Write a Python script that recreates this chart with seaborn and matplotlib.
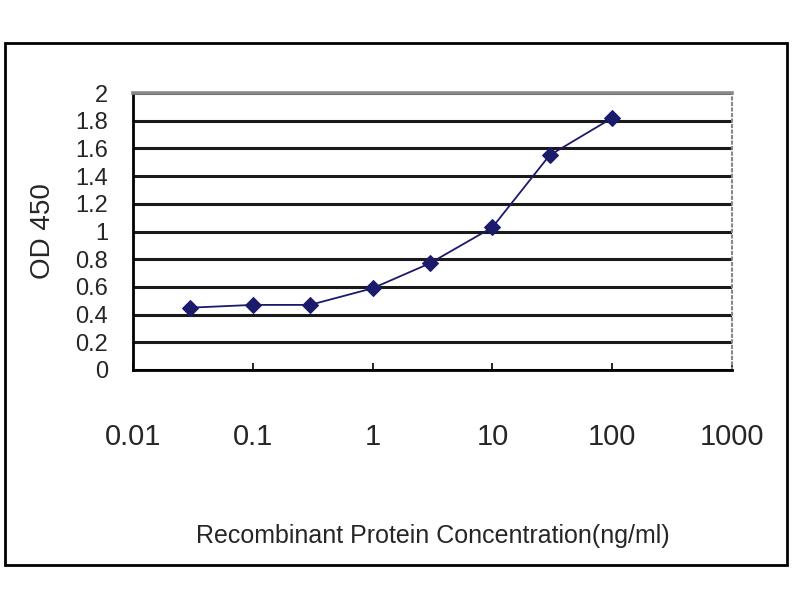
import matplotlib
matplotlib.use("Agg")
import matplotlib.pyplot as plt
from matplotlib.patches import Rectangle
import seaborn as sns
import pandas as pd

# ================= DATOS =================
concentracion = [0.03, 0.1, 0.3, 1, 3, 10, 30, 100]
od450 = [0.45, 0.47, 0.47, 0.59, 0.77, 1.03, 1.55, 1.82]
y_ticks = [0, 0.2, 0.4, 0.6, 0.8, 1, 1.2, 1.4, 1.6, 1.8, 2]
x_ticks = [0.01, 0.1, 1, 10, 100, 1000]
x_labels = ["0.01", "0.1", "1", "10", "100", "1000"]

COLOR = "#1b1a6b"

sns.set_style("white")
plt.rcParams["font.family"] = ["Liberation Sans", "DejaVu Sans"]

df = pd.DataFrame({"conc": concentracion, "od": od450})

fig = plt.figure(figsize=(8, 6), dpi=100)
ax = fig.add_axes([133 / 800, 1 - 370 / 600, 599 / 800, 277 / 600])

# borde exterior del grafico
fig.patches.append(Rectangle((5 / 800, 1 - 565 / 600), 782 / 800, 522 / 600,
                             transform=fig.transFigure, fill=False,
                             edgecolor="black", linewidth=2))

sns.lineplot(data=df, x="conc", y="od", ax=ax, color=COLOR, marker="D",
             markersize=8, markeredgecolor=COLOR, linewidth=1.3)

ax.set_xscale("log")
ax.set_xlim(0.01, 1000)
ax.set_ylim(0, 2)
ax.set_yticks(y_ticks)
ax.set_yticklabels([f"{v:g}" for v in y_ticks], fontsize=17)
ax.set_xticks(x_ticks)
ax.set_xticklabels(x_labels, fontsize=21)
ax.minorticks_off()

ax.tick_params(axis="x", direction="in", length=5, width=1.2, color="black",
               bottom=True, pad=38)
ax.tick_params(axis="y", length=0, pad=18)

ax.yaxis.grid(True, color="#1a1a1a", linewidth=2.2)
ax.set_axisbelow(True)

ax.spines["left"].set_color("black")
ax.spines["left"].set_linewidth(2)
ax.spines["bottom"].set_color("black")
ax.spines["bottom"].set_linewidth(2)
ax.spines["top"].set_color("#888888")
ax.spines["top"].set_linewidth(2.6)
ax.spines["right"].set_color("#888888")
ax.spines["right"].set_linestyle(":")
ax.spines["right"].set_linewidth(1.5)

ax.set_ylabel("OD 450", fontsize=20, labelpad=14)
ax.set_xlabel("Recombinant Protein Concentration(ng/ml)", fontsize=18,
              labelpad=53)

fig.savefig("out.png", dpi=100)
